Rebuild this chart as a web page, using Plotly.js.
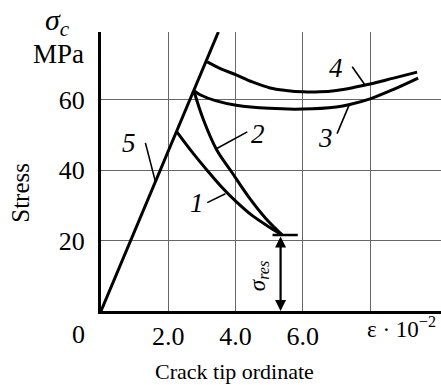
<!DOCTYPE html>
<html>
<head>
<meta charset="utf-8">
<script src="https://cdn.plot.ly/plotly-3.0.1.min.js"></script>
<style>html,body{margin:0;padding:0;background:#fff;}#chart{width:441px;height:385px;}</style>
</head>
<body>
<div id="chart"></div>
<script>
// Line 5: elastic loading line
const eps5 = [0, 3.49];
const sig5 = [0, 79.3];
// Curve 1
const eps1 = [2.25, 2.7, 3.19, 3.6, 4.02, 4.5, 5.0, 5.39];
const sig1 = [51.0, 45.3, 39.6, 35.1, 31.1, 27.1, 23.9, 21.6];
// Curve 2
const eps2 = [2.76, 3.04, 3.43, 3.9, 4.4, 4.9, 5.39];
const sig2 = [62.6, 54.5, 46.0, 39.3, 32.3, 26.3, 21.6];
// Curve 3
const eps3 = [2.76, 2.96, 3.4, 4.02, 5.0, 6.0, 7.0, 7.4, 8.0, 8.7, 9.43];
const sig3 = [62.6, 61.4, 59.8, 58.5, 57.6, 57.4, 58.0, 58.7, 60.3, 63.0, 66.2];
// Curve 4
const eps4 = [3.16, 3.55, 4.02, 4.5, 5.03, 5.5, 6.01, 6.5, 7.0, 7.5, 8.0, 8.7, 9.4];
const sig4 = [70.8, 68.9, 67.1, 65.1, 63.4, 62.7, 62.3, 62.3, 62.7, 63.5, 64.5, 66.2, 67.9];
// Residual stress
const epsRes = 5.34;
const sigRes = 21.6;
// Ticks
const xTickVals = [2, 4, 6, 8];
const xTickText = ['2.0', '4.0', '6.0', ''];
const yTickVals = [20, 40, 60];
const yTickText = ['20', '40', '60'];

const serif = 'Liberation Serif, Times New Roman, serif';
const lineStyle = {color: '#000', width: 3};

const traces = [
  {x: eps5, y: sig5, mode: 'lines', line: lineStyle, hoverinfo: 'skip'},
  {x: eps1, y: sig1, mode: 'lines', line: Object.assign({shape: 'spline', smoothing: 1}, lineStyle), hoverinfo: 'skip'},
  {x: eps2, y: sig2, mode: 'lines', line: Object.assign({shape: 'spline', smoothing: 1}, lineStyle), hoverinfo: 'skip'},
  {x: eps3, y: sig3, mode: 'lines', line: Object.assign({shape: 'spline', smoothing: 1}, lineStyle), hoverinfo: 'skip'},
  {x: eps4, y: sig4, mode: 'lines', line: Object.assign({shape: 'spline', smoothing: 1}, lineStyle), hoverinfo: 'skip'}
];

function leader(x0, y0, x1, y1) {
  return {type: 'line', xref: 'x', yref: 'y', x0: x0, y0: y0, x1: x1, y1: y1, line: {color: '#000', width: 1.6}};
}
function numLabel(t, x, y) {
  return {text: t, x: x, y: y, xref: 'x', yref: 'y', showarrow: false,
    font: {family: serif, size: 27, color: '#000', style: 'italic'}, xanchor: 'center', yanchor: 'middle'};
}
function paperText(t, x, y, size, extra) {
  return Object.assign({text: t, x: x, y: y, xref: 'paper', yref: 'paper', showarrow: false,
    xanchor: 'center', yanchor: 'middle', font: {family: serif, size: size, color: '#000'}}, extra || {});
}

const layout = {
  width: 441, height: 385,
  margin: {l: 100.5, r: 0, t: 32, b: 73.5, pad: 0},
  paper_bgcolor: '#fff', plot_bgcolor: '#fff',
  showlegend: false,
  xaxis: {
    range: [0, 10.11], tickvals: xTickVals, ticktext: xTickText,
    showgrid: true, gridcolor: '#666', gridwidth: 1,
    showline: true, linecolor: '#000', linewidth: 3, zeroline: false, ticks: '',
    tickfont: {family: serif, size: 26, color: '#000'}, ticklabelstandoff: 0
  },
  yaxis: {
    range: [0, 79.3], tickvals: yTickVals, ticktext: yTickText,
    showgrid: true, gridcolor: '#666', gridwidth: 1,
    showline: true, linecolor: '#000', linewidth: 3, zeroline: false, ticks: '',
    tickfont: {family: serif, size: 26, color: '#000'}, ticklabelstandoff: 8
  },
  shapes: [
    leader(1.32, 47.8, 1.62, 36.7),
    leader(3.16, 30.8, 3.70, 33.3),
    leader(3.43, 46.1, 4.35, 50.9),
    leader(7.38, 58.6, 7.02, 50.4),
    leader(7.47, 69.4, 7.83, 64.5),
    {type: 'line', xref: 'x', yref: 'y', x0: 5.10, x1: 5.85, y0: sigRes, y1: sigRes, line: {color: '#000', width: 2.5}}
  ],
  annotations: [
    numLabel('5', 0.82, 47.8),
    numLabel('1', 2.84, 30.8),
    numLabel('2', 4.68, 50.4),
    numLabel('3', 6.67, 49.2),
    numLabel('4', 7.0, 69.1),
    {x: epsRes, y: 0, ax: epsRes, ay: sigRes, xref: 'x', yref: 'y', axref: 'x', ayref: 'y',
      text: '', showarrow: true, arrowhead: 2, arrowside: 'end+start', arrowsize: 1, arrowwidth: 2.2, arrowcolor: '#000'},
    {text: 'σ<sub>res</sub>', x: 4.68, y: 10.0, xref: 'x', yref: 'y', showarrow: false, textangle: -90,
      xanchor: 'center', yanchor: 'middle',
      font: {family: serif, size: 23, color: '#000', style: 'italic'}},
    paperText('σ<sub>c</sub>', -0.128, 1.036, 30, {font: {family: serif, size: 30, color: '#000', style: 'italic'}}),
    paperText('MPa', -0.125, 0.921, 27),
    paperText('Stress', -0.236, 0.423, 25, {textangle: -90}),
    paperText('Crack tip ordinate', 0.392, -0.216, 22),
    paperText('0', -0.066, -0.084, 26),
    paperText('ε · 10<sup>−2</sup>', 0.883, -0.059, 23)
  ]
};

Plotly.newPlot('chart', traces, layout, {staticPlot: true, displayModeBar: false});
</script>
</body>
</html>
